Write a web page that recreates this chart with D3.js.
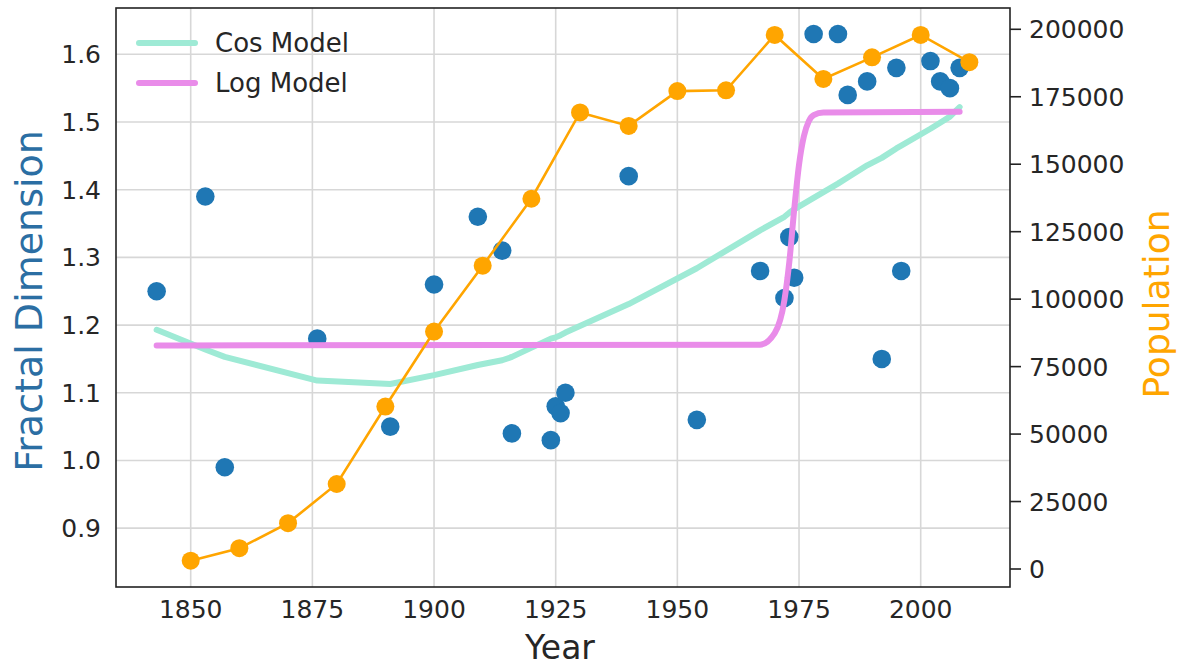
<!DOCTYPE html>
<html>
<head>
<meta charset="utf-8">
<script src="https://cdn.jsdelivr.net/npm/d3@7"></script>
<style>
  html, body { margin: 0; padding: 0; background: #fff; }
  svg { display: block; font-family: "DejaVu Sans", sans-serif; }
</style>
</head>
<body>
<svg id="chart" width="1182" height="668"></svg>
<script>
// Observed fractal dimension per survey year
const sampleYears = [1843, 1853, 1857, 1876, 1891, 1900, 1909, 1914, 1916, 1924, 1925, 1926, 1927, 1940, 1954,
                     1967, 1972, 1973, 1974, 1978, 1983, 1985, 1989, 1992, 1995, 1996, 2002, 2004, 2006, 2008];
const fractalDim  = [1.25, 1.39, 0.99, 1.18, 1.05, 1.26, 1.36, 1.31, 1.04, 1.03, 1.08, 1.07, 1.10, 1.42, 1.06,
                     1.28, 1.24, 1.33, 1.27, 1.63, 1.63, 1.54, 1.56, 1.15, 1.58, 1.28, 1.59, 1.56, 1.55, 1.58];

// Cosine model evaluated at the survey years
const cosModel = [1.193, 1.164, 1.153, 1.118, 1.113, 1.126, 1.141, 1.148, 1.153, 1.180, 1.182, 1.185, 1.189, 1.231, 1.284,
                  1.340, 1.360, 1.366, 1.371, 1.388, 1.409, 1.418, 1.436, 1.447, 1.461, 1.465, 1.490, 1.499, 1.508, 1.522];

// Logistic model
const logYears = [1843, 1967, 1970, 1972, 1973, 1974, 1975, 1976, 1977, 1978, 1980, 2008];
const logModel = [1.170, 1.171, 1.188, 1.237, 1.293, 1.370, 1.437, 1.479, 1.501, 1.510, 1.514, 1.515];

// Census population by decade
const popYears   = [1850, 1860, 1870, 1880, 1890, 1900, 1910, 1920, 1930, 1940, 1950, 1960, 1970, 1980, 1990, 2000, 2010];
const population = [3100, 7700, 17000, 31500, 60200, 88000, 112400, 137200, 169200, 164200, 177100, 177400, 197900, 181600, 189600, 197900, 187800];

// Tick values
const xTicks     = [1850, 1875, 1900, 1925, 1950, 1975, 2000];
const leftTicks  = [0.9, 1.0, 1.1, 1.2, 1.3, 1.4, 1.5, 1.6];
const rightTicks = [0, 25000, 50000, 75000, 100000, 125000, 150000, 175000, 200000];

const svg = d3.select("#chart");
const plot = { left: 116, right: 1010, top: 8, bottom: 587 };

const colors = {
  dots: "#1f77b4",
  pop: "#ffa500",
  cos: "#9eead5",
  log: "#e98ce9",
  grid: "#d7d7d7",
  frame: "#222",
  text: "#262626",
  leftLabel: "#2b6ea3"
};

// x domain: data extent padded by 5% on each side
const allYears = sampleYears.concat(popYears);
const [x0, x1] = d3.extent(allYears);
const xpad = (x1 - x0) * 0.05;
const x = d3.scaleLinear().domain([x0 - xpad, x1 + xpad]).range([plot.left, plot.right]);
const yL = d3.scaleLinear().domain([0.8131, 1.6684]).range([plot.bottom, plot.top]);
const yR = d3.scaleLinear().domain([-6670, 207890]).range([plot.bottom, plot.top]);

// Grid
const grid = svg.append("g").attr("stroke", colors.grid).attr("stroke-width", 1.6);
grid.selectAll("line.v").data(xTicks).join("line")
  .attr("x1", d => x(d)).attr("x2", d => x(d))
  .attr("y1", plot.top).attr("y2", plot.bottom);
grid.selectAll("line.h").data(leftTicks).join("line")
  .attr("x1", plot.left).attr("x2", plot.right)
  .attr("y1", d => yL(d)).attr("y2", d => yL(d));

// Clip region for marks
svg.append("clipPath").attr("id", "plotclip").append("rect")
  .attr("x", plot.left).attr("y", plot.top)
  .attr("width", plot.right - plot.left).attr("height", plot.bottom - plot.top);
const marks = svg.append("g").attr("clip-path", "url(#plotclip)");

// Observed points
marks.append("g").selectAll("circle").data(sampleYears).join("circle")
  .attr("cx", d => x(d))
  .attr("cy", (d, i) => yL(fractalDim[i]))
  .attr("r", 9.3)
  .attr("fill", colors.dots);

// Cosine model
marks.append("path")
  .datum(sampleYears.map((yr, i) => [yr, cosModel[i]]))
  .attr("fill", "none").attr("stroke", colors.cos).attr("stroke-width", 6)
  .attr("stroke-linecap", "round").attr("stroke-linejoin", "round")
  .attr("d", d3.line().x(d => x(d[0])).y(d => yL(d[1])));

// Logistic model
marks.append("path")
  .datum(logYears.map((yr, i) => [yr, logModel[i]]))
  .attr("fill", "none").attr("stroke", colors.log).attr("stroke-width", 6)
  .attr("stroke-linecap", "round").attr("stroke-linejoin", "round")
  .attr("d", d3.line().curve(d3.curveMonotoneX).x(d => x(d[0])).y(d => yL(d[1])));

// Population (right axis)
marks.append("path")
  .datum(popYears.map((yr, i) => [yr, population[i]]))
  .attr("fill", "none").attr("stroke", colors.pop).attr("stroke-width", 2.6)
  .attr("d", d3.line().x(d => x(d[0])).y(d => yR(d[1])));
marks.append("g").selectAll("circle").data(popYears).join("circle")
  .attr("cx", d => x(d))
  .attr("cy", (d, i) => yR(population[i]))
  .attr("r", 9)
  .attr("fill", colors.pop);

// Frame
svg.append("rect")
  .attr("x", plot.left).attr("y", plot.top)
  .attr("width", plot.right - plot.left).attr("height", plot.bottom - plot.top)
  .attr("fill", "none").attr("stroke", colors.frame).attr("stroke-width", 1.6);

// Bottom axis labels
svg.append("g").selectAll("text").data(xTicks).join("text")
  .attr("x", d => x(d)).attr("y", 618)
  .attr("text-anchor", "middle")
  .attr("font-size", 25).attr("fill", colors.text)
  .text(d => d);

// Left axis labels
svg.append("g").selectAll("text").data(leftTicks).join("text")
  .attr("x", 101).attr("y", d => yL(d)).attr("dy", "0.36em")
  .attr("text-anchor", "end")
  .attr("font-size", 25).attr("fill", colors.text)
  .text(d => d3.format(".1f")(d));

// Right axis ticks and labels
const rAxis = svg.append("g");
rAxis.selectAll("line").data(rightTicks).join("line")
  .attr("x1", plot.right).attr("x2", plot.right + 11)
  .attr("y1", d => yR(d)).attr("y2", d => yR(d))
  .attr("stroke", colors.frame).attr("stroke-width", 1.6);
rAxis.selectAll("text").data(rightTicks).join("text")
  .attr("x", 1029).attr("y", d => yR(d)).attr("dy", "0.36em")
  .attr("font-size", 25).attr("fill", colors.text)
  .text(d => d3.format("d")(d));

// Axis titles
svg.append("text")
  .attr("x", (plot.left + plot.right) / 2 - 3).attr("y", 659)
  .attr("text-anchor", "middle").attr("font-size", 33).attr("fill", colors.text)
  .text("Year");
svg.append("text")
  .attr("transform", "translate(42,301) rotate(-90)")
  .attr("text-anchor", "middle").attr("font-size", 38).attr("fill", colors.leftLabel)
  .text("Fractal Dimension");
svg.append("text")
  .attr("transform", "translate(1169,304) rotate(-90)")
  .attr("text-anchor", "middle").attr("font-size", 36).attr("fill", colors.pop)
  .text("Population");

// Legend
const legendItems = [
  { label: "Cos Model", color: colors.cos },
  { label: "Log Model", color: colors.log }
];
const legend = svg.append("g");
legendItems.forEach((item, i) => {
  const cy = 43 + i * 40;
  legend.append("line")
    .attr("x1", 139).attr("x2", 195).attr("y1", cy).attr("y2", cy)
    .attr("stroke", item.color).attr("stroke-width", 6).attr("stroke-linecap", "round");
  legend.append("text")
    .attr("x", 215).attr("y", cy).attr("dy", "0.36em")
    .attr("font-size", 26).attr("fill", colors.text)
    .text(item.label);
});
</script>
</body>
</html>
